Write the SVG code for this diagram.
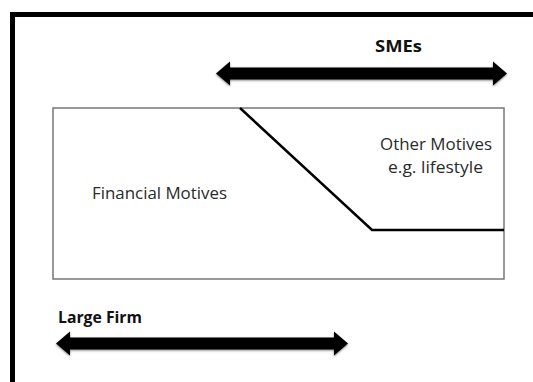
<svg xmlns="http://www.w3.org/2000/svg" width="533" height="382" viewBox="0 0 533 382">
  <style>
    .lbl { font-family: "Open Sans", "Noto Sans", "Liberation Sans", sans-serif; font-size: 16.5px; fill: #2a2a2a; }
    .bold { font-weight: bold; fill: #111; font-size: 16px; }
    .arrow { fill: #000; filter: url(#soft); }
  </style>
  <defs>
    <filter id="soft" x="-5%" y="-30%" width="110%" height="160%">
      <feGaussianBlur in="SourceAlpha" stdDeviation="1"/>
      <feOffset dx="0" dy="1" result="b"/>
      <feComponentTransfer><feFuncA type="linear" slope="0.5"/></feComponentTransfer>
      <feMerge><feMergeNode/><feMergeNode in="SourceGraphic"/></feMerge>
    </filter>
  </defs>
  <rect width="533" height="382" fill="#fff"/>
  <g id="frame">
    <rect x="12.5" y="14.5" width="560" height="400" fill="none" stroke="#000" stroke-width="5"/>
  </g>
  <g id="motives-box">
    <rect x="53" y="108" width="451" height="171" fill="#fff" stroke="#777" stroke-width="1.5"/>
    <text class="lbl" x="92" y="199" textLength="135" lengthAdjust="spacingAndGlyphs">Financial Motives</text>
    <text class="lbl" x="380" y="150" textLength="112" lengthAdjust="spacingAndGlyphs">Other Motives</text>
    <text class="lbl" x="388" y="173" textLength="95" lengthAdjust="spacingAndGlyphs">e.g. lifestyle</text>
  </g>
  <g id="connectors">
    <polyline points="240,108 372,230 504,230" fill="none" stroke="#000" stroke-width="2.5"/>
  </g>
  <g id="smes">
    <text class="lbl bold" x="375" y="52" textLength="47" lengthAdjust="spacingAndGlyphs">SMEs</text>
    <polygon class="arrow" points="216,73.5 230,61.5 230,67.5 493,67.5 493,61.5 507,73.5 493,85.5 493,79.5 230,79.5 230,85.5"/>
  </g>
  <g id="large-firm">
    <text class="lbl bold" x="58" y="323" textLength="84" lengthAdjust="spacingAndGlyphs">Large Firm</text>
    <polygon class="arrow" points="56,343.5 70,331.5 70,337.5 334,337.5 334,331.5 348,343.5 334,355.5 334,349.5 70,349.5 70,355.5"/>
  </g>
</svg>
